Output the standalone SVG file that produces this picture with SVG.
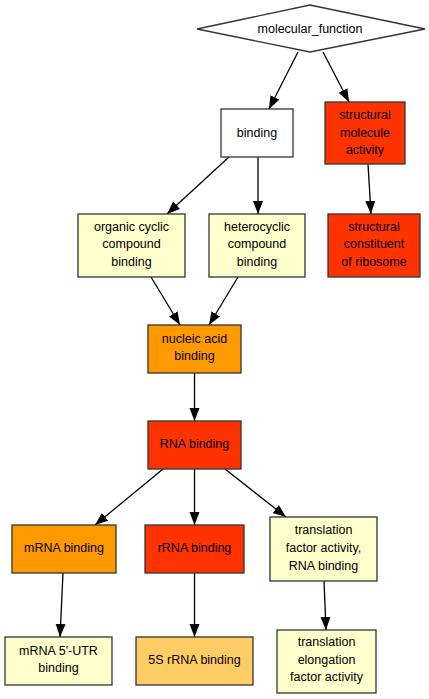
<svg xmlns="http://www.w3.org/2000/svg" width="429" height="699" viewBox="0 0 429 699">
<style>
.n{stroke:#333;stroke-width:1.3}
.w{fill:#fff}.r{fill:#FF3300}.o{fill:#FF9900}.y{fill:#FFFFCC}.p{fill:#FFCC66}
text{font-family:"Liberation Sans",Arial,sans-serif;font-size:12.5px;fill:#000;text-anchor:middle}
.e{stroke:#000;stroke-width:1.3;fill:none;marker-end:url(#a)}
</style>
<defs>
<marker id="a" markerUnits="userSpaceOnUse" markerWidth="14" markerHeight="12" refX="13" refY="5.5" orient="auto">
<path d="M0,0.5L13,5.5L0,10.5z" fill="#000"/>
</marker>
</defs>
<rect width="429" height="699" fill="#fff"/>
<g id="edges">
<line class="e" x1="298" y1="52" x2="269" y2="109"/>
<line class="e" x1="323" y1="52" x2="349" y2="102"/>
<line class="e" x1="229" y1="157" x2="167" y2="214"/>
<line class="e" x1="258" y1="157" x2="258" y2="214"/>
<line class="e" x1="368" y1="164" x2="371" y2="214"/>
<line class="e" x1="151" y1="277" x2="180" y2="325"/>
<line class="e" x1="238" y1="277" x2="209" y2="325"/>
<line class="e" x1="194.5" y1="373" x2="194.5" y2="421"/>
<line class="e" x1="163" y1="469" x2="95" y2="525"/>
<line class="e" x1="194.5" y1="469" x2="194.5" y2="525"/>
<line class="e" x1="225" y1="469" x2="286" y2="517"/>
<line class="e" x1="63" y1="573" x2="60" y2="637"/>
<line class="e" x1="194.5" y1="573" x2="194.5" y2="637"/>
<line class="e" x1="324" y1="581" x2="326" y2="630"/>
</g>
<g id="molecular_function">
<polygon class="n w" points="197,29 310,5 425,29 310,52"/>
<text x="310" y="33">molecular_function</text>
</g>
<g id="binding">
<rect class="n w" x="221" y="109" width="72" height="48"/>
<text x="257" y="137">binding</text>
</g>
<g id="structural_molecule_activity">
<rect class="n r" x="325" y="102" width="80" height="62"/>
<text x="365" y="119">structural</text>
<text x="365" y="137">molecule</text>
<text x="365" y="154">activity</text>
</g>
<g id="organic_cyclic_compound_binding">
<rect class="n y" x="78" y="214" width="107" height="63"/>
<text x="131.5" y="231">organic cyclic</text>
<text x="131.5" y="248">compound</text>
<text x="131.5" y="266">binding</text>
</g>
<g id="heterocyclic_compound_binding">
<rect class="n y" x="209" y="214" width="96" height="63"/>
<text x="257" y="231">heterocyclic</text>
<text x="257" y="248">compound</text>
<text x="257" y="266">binding</text>
</g>
<g id="structural_constituent_of_ribosome">
<rect class="n r" x="328" y="214" width="92" height="63"/>
<text x="374" y="231">structural</text>
<text x="374" y="248">constituent</text>
<text x="374" y="266">of ribosome</text>
</g>
<g id="nucleic_acid_binding">
<rect class="n o" x="148" y="325" width="93" height="48"/>
<text x="194.5" y="343">nucleic acid</text>
<text x="194.5" y="360">binding</text>
</g>
<g id="RNA_binding">
<rect class="n r" x="148" y="421" width="93" height="48"/>
<text x="194.5" y="448">RNA binding</text>
</g>
<g id="mRNA_binding">
<rect class="n o" x="12" y="525" width="104" height="48"/>
<text x="64" y="552">mRNA binding</text>
</g>
<g id="rRNA_binding">
<rect class="n r" x="145" y="525" width="99" height="48"/>
<text x="194.5" y="552">rRNA binding</text>
</g>
<g id="translation_factor_activity_RNA_binding">
<rect class="n y" x="270" y="517" width="107" height="64"/>
<text x="323.5" y="534">translation</text>
<text x="323.5" y="552">factor activity,</text>
<text x="323.5" y="570">RNA binding</text>
</g>
<g id="mRNA_5UTR_binding">
<rect class="n y" x="5" y="637" width="107" height="48"/>
<text x="58.5" y="655">mRNA 5'-UTR</text>
<text x="58.5" y="672">binding</text>
</g>
<g id="5S_rRNA_binding">
<rect class="n p" x="136" y="637" width="117" height="48"/>
<text x="194.5" y="664">5S rRNA binding</text>
</g>
<g id="translation_elongation_factor_activity">
<rect class="n y" x="277" y="630" width="99" height="63"/>
<text x="326.5" y="646">translation</text>
<text x="326.5" y="664">elongation</text>
<text x="326.5" y="681">factor activity</text>
</g>
</svg>
